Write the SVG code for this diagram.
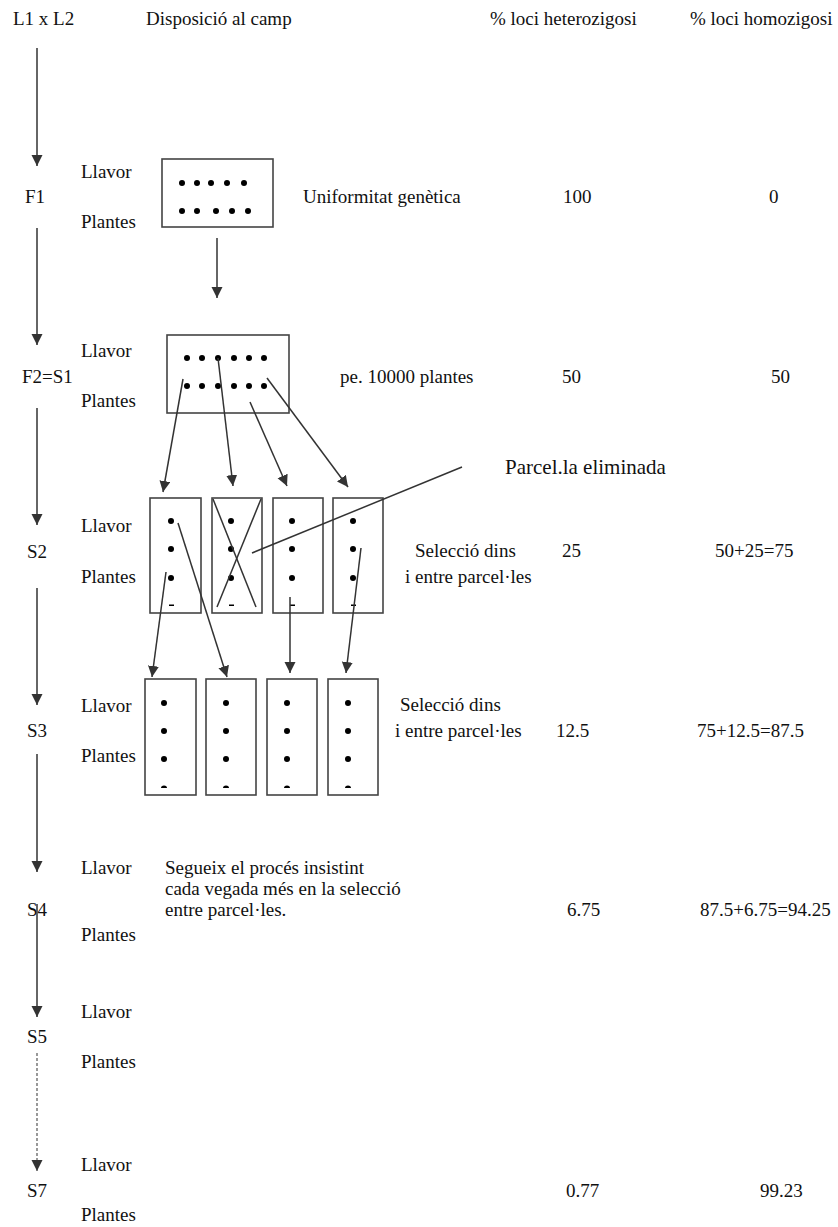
<svg xmlns="http://www.w3.org/2000/svg" width="838" height="1227" viewBox="0 0 838 1227">
  <style>
    text { font-family: "Liberation Serif", "Times New Roman", serif; font-size: 19px; fill: #111; }
    .big { font-size: 21px; }
    .ln { stroke: #333; stroke-width: 1.5; fill: none; }
    .arr { stroke: #333; stroke-width: 1.5; fill: none; marker-end: url(#head); }
    .dash { stroke: #555; stroke-width: 1.2; fill: none; stroke-dasharray: 3 2; marker-end: url(#head); }
    .box { fill: #fff; stroke: #444; stroke-width: 1.6; }
    .dot { fill: #000; }
  </style>
  <defs>
    <marker id="head" markerUnits="userSpaceOnUse" markerWidth="12" markerHeight="12" refX="11" refY="5.5" orient="auto">
      <path d="M0,0 L11,5.5 L0,11 z" fill="#333"/>
    </marker>
  </defs>
  <rect width="838" height="1227" fill="#fff"/>

  <!-- column headings -->
  <g id="headings">
    <text x="13" y="25">L1 x L2</text>
    <text x="146" y="25">Disposició al camp</text>
    <text x="490" y="25">% loci heterozigosi</text>
    <text x="690" y="25">% loci homozigosi</text>
  </g>

  <!-- generation labels -->
  <g id="gen-F1">
    <text x="25" y="203">F1</text>
    <text x="81" y="178">Llavor</text>
    <text x="81" y="228">Plantes</text>
  </g>
  <g id="gen-F2">
    <text x="22" y="383">F2=S1</text>
    <text x="81" y="357">Llavor</text>
    <text x="81" y="407">Plantes</text>
  </g>
  <g id="gen-S2">
    <text x="27" y="558">S2</text>
    <text x="81" y="532">Llavor</text>
    <text x="81" y="583">Plantes</text>
  </g>
  <g id="gen-S3">
    <text x="27" y="737">S3</text>
    <text x="81" y="712">Llavor</text>
    <text x="81" y="762">Plantes</text>
  </g>
  <g id="gen-S4">
    <text x="27" y="916">S4</text>
    <text x="81" y="874">Llavor</text>
    <text x="81" y="941">Plantes</text>
  </g>
  <g id="gen-S5">
    <text x="27" y="1043">S5</text>
    <text x="81" y="1018">Llavor</text>
    <text x="81" y="1068">Plantes</text>
  </g>
  <g id="gen-S7">
    <text x="27" y="1197">S7</text>
    <text x="81" y="1171">Llavor</text>
    <text x="81" y="1221">Plantes</text>
  </g>

  <!-- F1 plot -->
  <g id="plot-F1">
    <rect class="box" x="162" y="159" width="111" height="68"/>
    <g class="dot">
      <circle cx="182" cy="183" r="3"/><circle cx="197" cy="183" r="3"/><circle cx="211" cy="183" r="3"/><circle cx="227" cy="183" r="3"/><circle cx="244" cy="183" r="3"/>
      <circle cx="182" cy="211" r="3"/><circle cx="197" cy="211" r="3"/><circle cx="216" cy="211" r="3"/><circle cx="232" cy="211" r="3"/><circle cx="248" cy="211" r="3"/>
    </g>
  </g>

  <!-- F2 plot -->
  <g id="plot-F2">
    <rect class="box" x="167" y="335" width="122" height="78"/>
    <g class="dot">
      <circle cx="187" cy="358" r="3"/><circle cx="202" cy="358" r="3"/><circle cx="218" cy="358" r="3"/><circle cx="234" cy="358" r="3"/><circle cx="249" cy="358" r="3"/><circle cx="264" cy="358" r="3"/>
      <circle cx="187" cy="386" r="3"/><circle cx="202" cy="386" r="3"/><circle cx="218" cy="386" r="3"/><circle cx="234" cy="386" r="3"/><circle cx="249" cy="386" r="3"/><circle cx="264" cy="386" r="3"/>
    </g>
  </g>

  <!-- S2 plots -->
  <g id="plot-S2-1">
    <rect class="box" x="150" y="498" width="51" height="115"/>
    <circle class="dot" cx="171" cy="521" r="3"/><circle class="dot" cx="171" cy="549" r="3"/><circle class="dot" cx="171" cy="578" r="3"/>
    <rect class="dot" x="169" y="604.5" width="5" height="1.5"/>
  </g>
  <g id="plot-S2-2">
    <rect class="box" x="212" y="498" width="50" height="115"/>
    <circle class="dot" cx="231" cy="521" r="3"/><circle class="dot" cx="231" cy="549" r="3"/><circle class="dot" cx="231" cy="578" r="3"/>
    <rect class="dot" x="229" y="604.5" width="5" height="1.5"/>
    <line class="ln" x1="213" y1="499" x2="256" y2="607"/>
    <line class="ln" x1="261" y1="499" x2="217" y2="607"/>
  </g>
  <g id="plot-S2-3">
    <rect class="box" x="273" y="498" width="50" height="115"/>
    <circle class="dot" cx="292" cy="521" r="3"/><circle class="dot" cx="292" cy="549" r="3"/><circle class="dot" cx="292" cy="578" r="3"/>
    <rect class="dot" x="290" y="604.5" width="5" height="1.5"/>
  </g>
  <g id="plot-S2-4">
    <rect class="box" x="333" y="498" width="50" height="115"/>
    <circle class="dot" cx="353" cy="521" r="3"/><circle class="dot" cx="353" cy="549" r="3"/><circle class="dot" cx="353" cy="578" r="3"/>
    <rect class="dot" x="351" y="604.5" width="5" height="1.5"/>
  </g>

  <!-- S3 plots -->
  <g id="plot-S3-1">
    <rect class="box" x="145" y="679" width="51" height="116"/>
    <circle class="dot" cx="164" cy="703" r="3"/><circle class="dot" cx="164" cy="731" r="3"/><circle class="dot" cx="164" cy="759" r="3"/>
    <path class="dot" d="M161,788 a3,2.5 0 0 1 6,0 z"/>
  </g>
  <g id="plot-S3-2">
    <rect class="box" x="206" y="679" width="50" height="116"/>
    <circle class="dot" cx="226" cy="703" r="3"/><circle class="dot" cx="226" cy="731" r="3"/><circle class="dot" cx="226" cy="759" r="3"/>
    <path class="dot" d="M223,788 a3,2.5 0 0 1 6,0 z"/>
  </g>
  <g id="plot-S3-3">
    <rect class="box" x="267" y="679" width="50" height="116"/>
    <circle class="dot" cx="287" cy="703" r="3"/><circle class="dot" cx="287" cy="731" r="3"/><circle class="dot" cx="287" cy="759" r="3"/>
    <path class="dot" d="M284,788 a3,2.5 0 0 1 6,0 z"/>
  </g>
  <g id="plot-S3-4">
    <rect class="box" x="328" y="679" width="50" height="116"/>
    <circle class="dot" cx="348" cy="703" r="3"/><circle class="dot" cx="348" cy="731" r="3"/><circle class="dot" cx="348" cy="759" r="3"/>
    <path class="dot" d="M345,788 a3,2.5 0 0 1 6,0 z"/>
  </g>

  <!-- descriptions and percentages -->
  <g id="row-F1">
    <text x="303" y="203">Uniformitat genètica</text>
    <text x="563" y="203">100</text>
    <text x="769" y="203">0</text>
  </g>
  <g id="row-F2">
    <text x="340" y="383">pe. 10000 plantes</text>
    <text x="562" y="383">50</text>
    <text x="771" y="383">50</text>
  </g>
  <g id="note-eliminated">
    <text class="big" x="505" y="474">Parcel.la eliminada</text>
  </g>
  <g id="row-S2">
    <text x="415" y="557">Selecció dins</text>
    <text x="405" y="583">i entre parcel·les</text>
    <text x="562" y="557">25</text>
    <text x="715" y="557">50+25=75</text>
  </g>
  <g id="row-S3">
    <text x="400" y="711">Selecció dins</text>
    <text x="395" y="737">i entre parcel·les</text>
    <text x="556" y="737">12.5</text>
    <text x="697" y="737">75+12.5=87.5</text>
  </g>
  <g id="row-S4">
    <text x="165" y="874">Segueix el procés insistint</text>
    <text x="165" y="895">cada vegada més en la selecció</text>
    <text x="165" y="916">entre parcel·les.</text>
    <text x="567" y="916">6.75</text>
    <text x="700" y="916">87.5+6.75=94.25</text>
  </g>
  <g id="row-S7">
    <text x="566" y="1197">0.77</text>
    <text x="760" y="1197">99.23</text>
  </g>

  <!-- connectors -->
  <g id="connectors">
    <!-- generation timeline -->
    <line class="arr" x1="37" y1="48" x2="37" y2="166"/>
    <line class="arr" x1="37" y1="228" x2="37" y2="345"/>
    <line class="arr" x1="37" y1="408" x2="37" y2="525"/>
    <line class="arr" x1="37" y1="588" x2="37" y2="705"/>
    <line class="arr" x1="37" y1="754" x2="37" y2="872"/>
    <line class="arr" x1="37" y1="904" x2="37" y2="1017"/>
    <line class="dash" x1="37" y1="1053" x2="37" y2="1171"/>

    <!-- F1 to F2 -->
    <line class="arr" x1="217" y1="238" x2="217" y2="298"/>

    <!-- F2 to S2 plots -->
    <line class="arr" x1="183" y1="379" x2="163" y2="492"/>
    <line class="arr" x1="218" y1="358" x2="233" y2="486"/>
    <line class="arr" x1="250" y1="402" x2="287" y2="486"/>
    <line class="arr" x1="267" y1="378" x2="348" y2="487"/>

    <!-- pointer to discarded plot -->
    <line class="ln" x1="252" y1="553" x2="462" y2="467"/>

    <!-- S2 to S3 plots -->
    <line class="arr" x1="166" y1="572" x2="152" y2="677"/>
    <line class="arr" x1="178" y1="523" x2="227" y2="677"/>
    <line class="arr" x1="290" y1="597" x2="290" y2="673"/>
    <line class="arr" x1="361" y1="548" x2="346" y2="673"/>
  </g>
</svg>
